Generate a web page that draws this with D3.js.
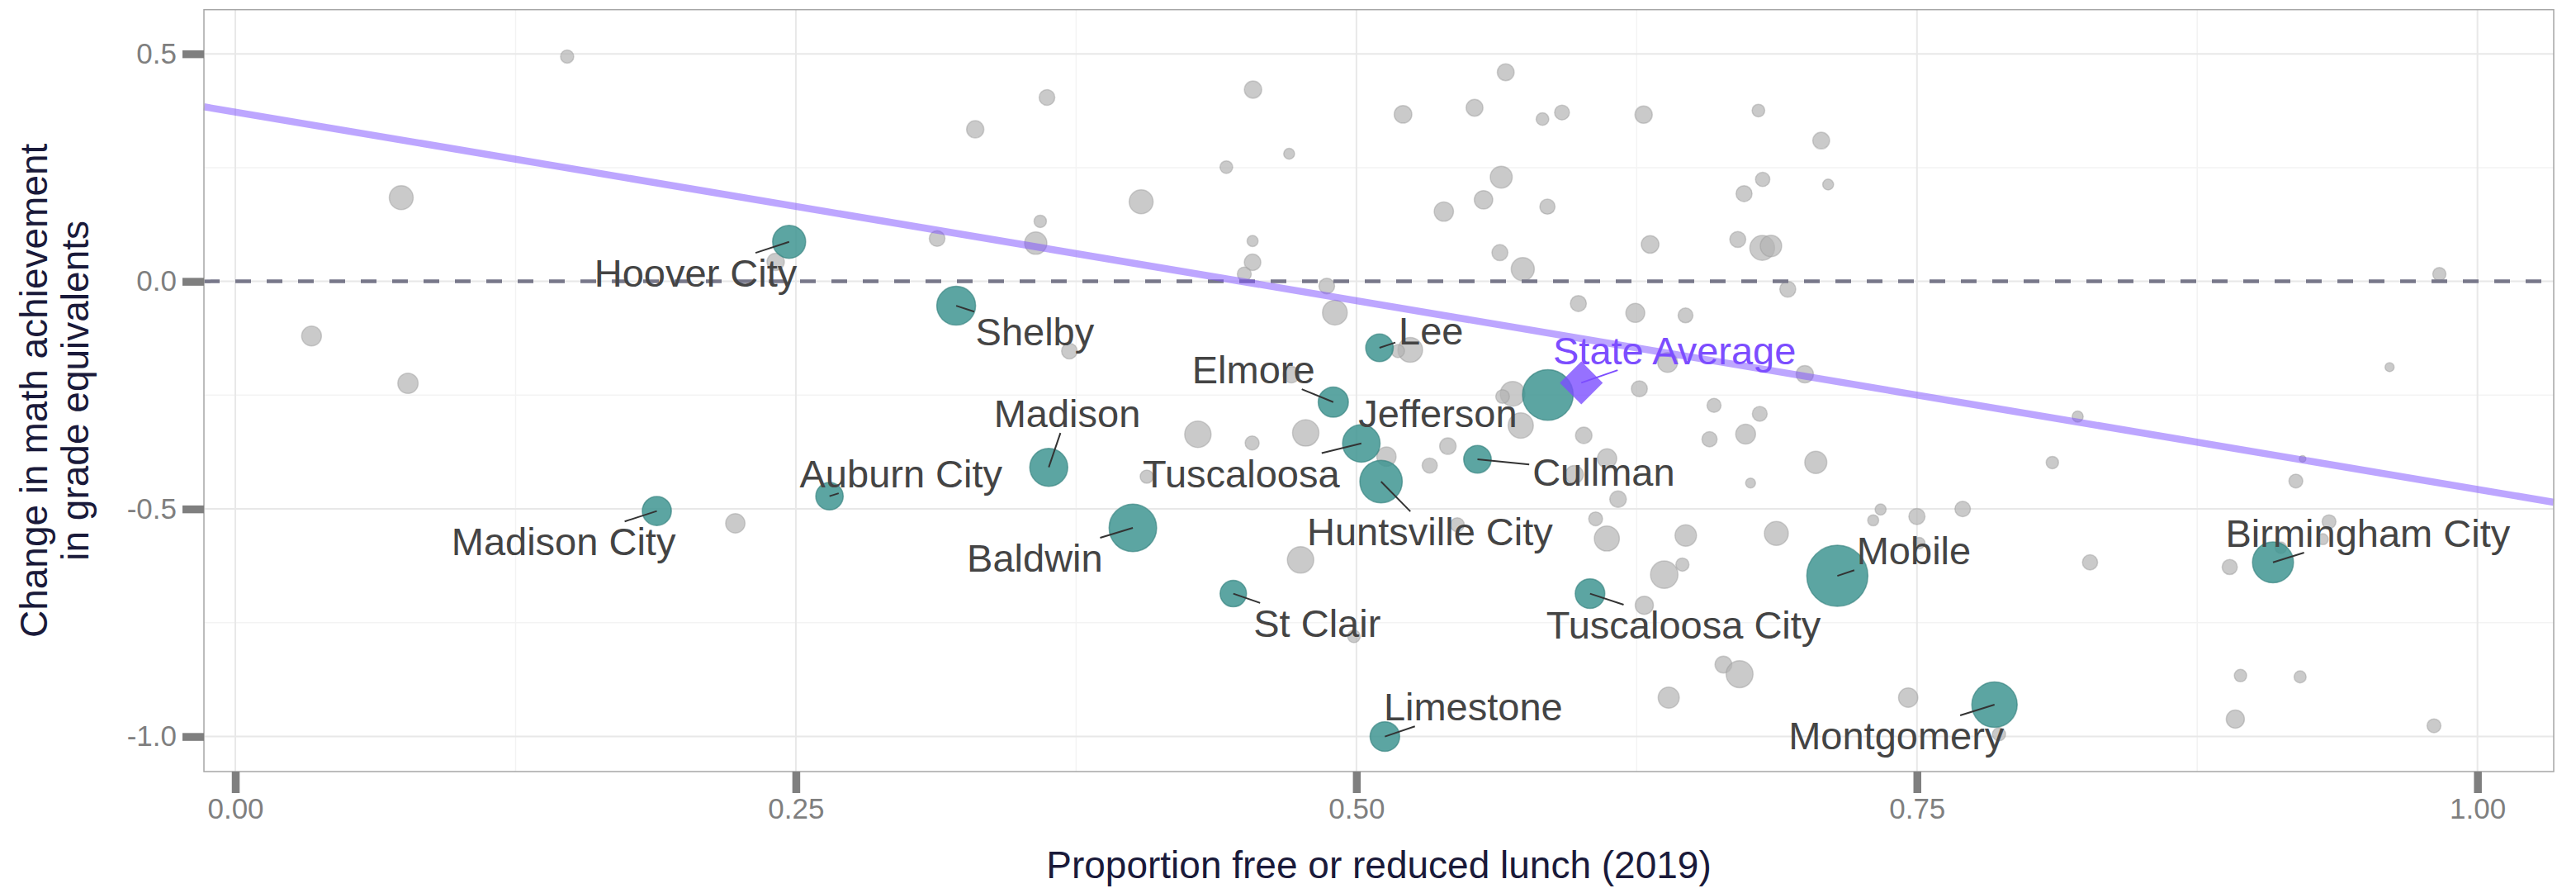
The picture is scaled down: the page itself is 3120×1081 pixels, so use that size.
<!DOCTYPE html>
<html>
<head>
<meta charset="utf-8">
<script src="https://cdn.jsdelivr.net/npm/d3@7"></script>
<style>
  body { margin: 0; background: #fff; }
  text { font-family: "Liberation Sans", Arial, sans-serif; }
</style>
</head>
<body>
<div id="chart"></div>
<script>
// districts without a label: [free/reduced lunch share, change in grade equivalents, enrollment (thousands)]
var otherDistricts = [
  [0.148, 0.494, 2.43], [0.074, 0.184, 7.99], [0.034, -0.120, 5.47], [0.077, -0.224, 5.75],
  [0.241, 0.043, 4.19], [0.330, 0.334, 4.19], [0.362, 0.404, 3.43], [0.442, 0.251, 2.25],
  [0.404, 0.175, 7.99], [0.359, 0.132, 2.14], [0.313, 0.094, 3.43], [0.357, 0.084, 6.92],
  [0.372, -0.153, 3.43], [0.223, -0.5315, 5.2], [0.4293, -0.336, 9.72], [0.4065, -0.429, 2.43],
  [0.4539, 0.4214, 4.19], [0.470, 0.2804, 1.65], [0.5666, 0.4595, 3.95], [0.5208, 0.367, 4.35],
  [0.5527, 0.3815, 3.95], [0.583, 0.3566, 2.25], [0.5917, 0.3711, 3.08], [0.6281, 0.3663, 4.19],
  [0.6793, 0.3753, 2.25], [0.7073, 0.3094, 3.95], [0.4537, 0.0886, 1.70], [0.4537, 0.042, 3.80],
  [0.450, 0.016, 2.74], [0.5646, 0.229, 6.72], [0.5567, 0.1793, 4.76], [0.539, 0.1534, 5.2],
  [0.5852, 0.1642, 3.21], [0.6812, 0.2241, 2.87], [0.7104, 0.2127, 1.65], [0.6729, 0.1927, 3.57],
  [0.631, 0.0813, 4.35], [0.6701, 0.0922, 3.57], [0.681, 0.0735, 8.55], [0.6849, 0.0777, 6.42],
  [0.564, 0.0632, 3.57], [0.5742, 0.0269, 7.44], [0.4868, -0.010, 3.43], [0.4904, -0.0686, 8.55],
  [0.599, -0.0487, 3.57], [0.6244, -0.0693, 5.02], [0.6468, -0.0747, 3.08], [0.6924, -0.0172, 3.57],
  [0.524, -0.1505, 8.55], [0.5185, -0.153, 2.43], [0.6388, -0.178, 5.47], [0.700, -0.204, 4.19],
  [0.6262, -0.236, 3.57], [0.6595, -0.2725, 2.74], [0.6799, -0.291, 3.08], [0.471, -0.2047, 3.80],
  [0.5697, -0.247, 8.55], [0.5652, -0.253, 2.62], [0.4774, -0.333, 9.72], [0.4535, -0.355, 2.74],
  [0.5134, -0.385, 5.2], [0.5327, -0.4047, 3.21], [0.5408, -0.362, 3.80], [0.5733, -0.3167, 8.89],
  [0.6014, -0.3383, 3.80], [0.6118, -0.389, 5.2], [0.6167, -0.4785, 3.80], [0.5972, -0.4245, 4.60],
  [0.6575, -0.3468, 3.21], [0.6736, -0.3356, 5.47], [0.7049, -0.3977, 6.82], [0.6758, -0.4432, 1.37],
  [0.6067, -0.5217, 2.68], [0.6117, -0.565, 8.77], [0.6469, -0.5583, 6.42], [0.6873, -0.5537, 7.99],
  [0.545, -0.5347, 2.74], [0.7338, -0.5013, 1.70], [0.7305, -0.525, 1.70], [0.4751, -0.612, 9.72],
  [0.4989, -0.780, 2.25], [0.6284, -0.7116, 4.60], [0.6373, -0.6444, 10.5], [0.6454, -0.6222, 2.43],
  [0.6637, -0.842, 3.95], [0.6709, -0.863, 10.1], [0.6393, -0.9145, 6.22],
  [0.983, 0.016, 2.43], [0.9608, -0.1884, 1.15], [0.8217, -0.297, 1.70], [0.8104, -0.398, 2.14],
  [0.7704, -0.500, 3.36], [0.750, -0.5165, 3.65], [0.751, -0.575, 1.86], [0.8272, -0.6174, 3.21],
  [0.919, -0.4387, 2.68], [0.922, -0.39, 0.61], [0.9338, -0.528, 2.68], [0.931, -0.5664, 1.70],
  [0.9123, -0.5853, 1.86], [0.8895, -0.6276, 3.21], [0.7461, -0.9145, 5.2], [0.7866, -0.995, 2.43],
  [0.8943, -0.8662, 2.14], [0.9209, -0.869, 2.02], [0.892, -0.9617, 4.60], [0.9806, -0.9764, 2.68]
];

// named districts: name, frl share, change, enrollment (thousands)
var namedDistricts = [
  ["Hoover City", 0.247, 0.087, 15.2],
  ["Shelby", 0.3215, -0.0535, 21.0],
  ["Madison City", 0.188, -0.5045, 11.8],
  ["Auburn City", 0.265, -0.472, 10.5],
  ["Madison", 0.3628, -0.4085, 20.1],
  ["Baldwin", 0.4003, -0.5416, 31.5],
  ["St Clair", 0.4451, -0.686, 9.7],
  ["Elmore", 0.4897, -0.2653, 12.7],
  ["Lee", 0.5103, -0.146, 10.6],
  ["Jefferson", 0.5854, -0.2495, 35.8],
  ["Tuscaloosa", 0.5022, -0.356, 19.6],
  ["Huntsville City", 0.511, -0.44, 25.1],
  ["Cullman", 0.554, -0.391, 10.6],
  ["Tuscaloosa City", 0.6042, -0.686, 12.2],
  ["Limestone", 0.5127, -1.000, 12.2],
  ["Mobile", 0.7145, -0.647, 52.0],
  ["Montgomery", 0.7846, -0.930, 28.7],
  ["Birmingham City", 0.9088, -0.6174, 23.4]
];

// where the repelled labels ended up (label centre, data units)
var labelSpots = {
  "Hoover City": [0.2053, 0.019], "Shelby": [0.3566, -0.110], "Madison City": [0.1464, -0.571],
  "Auburn City": [0.2969, -0.422], "Madison": [0.371, -0.2895], "Baldwin": [0.3566, -0.607],
  "St Clair": [0.4825, -0.750], "Elmore": [0.4541, -0.1933], "Lee": [0.5333, -0.108],
  "Jefferson": [0.5363, -0.2895], "Tuscaloosa": [0.4486, -0.421], "Huntsville City": [0.5328, -0.549],
  "Cullman": [0.6103, -0.4183], "Tuscaloosa City": [0.6459, -0.754], "Limestone": [0.5521, -0.934],
  "Mobile": [0.7486, -0.591], "Montgomery": [0.7408, -0.997], "Birmingham City": [0.9511, -0.5526]
};
var noSegment = ["Jefferson"];

var stateAverage = { frl: 0.6003, change: -0.2229, label: "State Average", spot: [0.6419, -0.1515] };

var fitIntercept = 0.372;
var fitSlope = -0.829;

var xTicks = [0, 0.25, 0.5, 0.75, 1];
var xMinor = [0.125, 0.375, 0.625, 0.875];
var yTicks = [0.5, 0, -0.5, -1];
var yMinor = [0.25, -0.25, -0.75];

var width = 3120, height = 1081;
var pLeft = 247, pRight = 3093, pTop = 11.7, pBottom = 934;

var svg = d3.select("#chart").append("svg")
  .attr("width", width)
  .attr("height", height);

var x = d3.scaleLinear().domain([-0.014, 1.034]).range([pLeft, pRight]);
var y = d3.scaleLinear().domain([-1.077, 0.597]).range([pBottom, pTop]);
var r = d3.scaleSqrt().domain([0, 52]).range([0, 37]);

// grid
var grid = svg.append("g");
grid.selectAll(".vminor").data(xMinor).enter().append("line")
  .attr("x1", d => x(d)).attr("x2", d => x(d)).attr("y1", pTop).attr("y2", pBottom)
  .attr("stroke", "#f3f3f3").attr("stroke-width", 1.5);
grid.selectAll(".hminor").data(yMinor).enter().append("line")
  .attr("x1", pLeft).attr("x2", pRight).attr("y1", d => y(d)).attr("y2", d => y(d))
  .attr("stroke", "#f3f3f3").attr("stroke-width", 1.5);
grid.selectAll(".vmajor").data(xTicks).enter().append("line")
  .attr("x1", d => x(d)).attr("x2", d => x(d)).attr("y1", pTop).attr("y2", pBottom)
  .attr("stroke", "#e8e8e8").attr("stroke-width", 2);
grid.selectAll(".hmajor").data(yTicks).enter().append("line")
  .attr("x1", pLeft).attr("x2", pRight).attr("y1", d => y(d)).attr("y2", d => y(d))
  .attr("stroke", "#e8e8e8").attr("stroke-width", 2);

// grey districts
svg.append("g").selectAll("circle")
  .data(otherDistricts)
  .enter().append("circle")
  .attr("cx", d => x(d[0]))
  .attr("cy", d => y(d[1]))
  .attr("r", d => r(d[2]))
  .attr("fill", "#b4b4b4")
  .attr("fill-opacity", 0.7)
  .attr("stroke", "#9c9c9c")
  .attr("stroke-opacity", 0.45)
  .attr("stroke-width", 1.5);

// zero line
svg.append("line")
  .attr("x1", pLeft).attr("x2", pRight)
  .attr("y1", y(0)).attr("y2", y(0))
  .attr("stroke", "#78788a")
  .attr("stroke-width", 4.5)
  .attr("stroke-dasharray", "19,19");

// fitted line
var x0 = x.domain()[0], x1 = x.domain()[1];
svg.append("line")
  .attr("x1", x(x0)).attr("y1", y(fitIntercept + fitSlope * x0))
  .attr("x2", x(x1)).attr("y2", y(fitIntercept + fitSlope * x1))
  .attr("stroke", "#7c4dff")
  .attr("stroke-opacity", 0.5)
  .attr("stroke-width", 8.5);

// named districts
svg.append("g").selectAll("circle")
  .data(namedDistricts)
  .enter().append("circle")
  .attr("cx", d => x(d[1]))
  .attr("cy", d => y(d[2]))
  .attr("r", d => r(d[3]))
  .attr("fill", "#3f9592")
  .attr("fill-opacity", 0.85)
  .attr("stroke", "#2f7d7a")
  .attr("stroke-opacity", 0.6)
  .attr("stroke-width", 1.5);

// state average diamond
var sx = x(stateAverage.frl), sy = y(stateAverage.change), dd = 26;
svg.append("path")
  .attr("d", `M${sx},${sy - dd} L${sx + dd},${sy} L${sx},${sy + dd} L${sx - dd},${sy} Z`)
  .attr("fill", "#7c4dff")
  .attr("fill-opacity", 0.8);

// labels + segments
var segLayer = svg.append("g");
var labelLayer = svg.append("g");

function addLabel(name, px, py, spot, color, drawSeg) {
  var cx = x(spot[0]), cy = y(spot[1]);
  var t = labelLayer.append("text")
    .attr("x", cx)
    .attr("y", cy + 17)
    .attr("text-anchor", "middle")
    .attr("font-size", 47)
    .attr("fill", color)
    .text(name);
  if (!drawSeg) return;
  var hw = t.node().getComputedTextLength() / 2 + 4;
  var hh = 24;
  var dx = cx - px, dy = cy - py;
  // fraction of the way to the label centre where the line meets the label box
  var sX = Math.abs(dx) > hw ? (Math.abs(dx) - hw) / Math.abs(dx) : 0;
  var sY = Math.abs(dy) > hh ? (Math.abs(dy) - hh) / Math.abs(dy) : 0;
  var s = Math.max(sX, sY);
  if (s <= 0) return;
  segLayer.append("line")
    .attr("x1", px).attr("y1", py)
    .attr("x2", px + dx * s).attr("y2", py + dy * s)
    .attr("stroke", color === "#444444" ? "#333333" : color)
    .attr("stroke-width", 2);
}

namedDistricts.forEach(function (d) {
  addLabel(d[0], x(d[1]), y(d[2]), labelSpots[d[0]], "#444444", noSegment.indexOf(d[0]) < 0);
});
addLabel(stateAverage.label, sx, sy, stateAverage.spot, "#7c4dff", true);

// panel border
svg.append("rect")
  .attr("x", pLeft).attr("y", pTop)
  .attr("width", pRight - pLeft).attr("height", pBottom - pTop)
  .attr("fill", "none")
  .attr("stroke", "#a6a6a6")
  .attr("stroke-width", 1.5);

// axes
var xAxis = svg.append("g")
  .attr("transform", `translate(0,${pBottom})`)
  .call(d3.axisBottom(x).tickValues(xTicks).tickFormat(d => d.toFixed(2)).tickSize(26).tickPadding(6));
var yAxis = svg.append("g")
  .attr("transform", `translate(${pLeft},0)`)
  .call(d3.axisLeft(y).tickValues(yTicks).tickFormat(d => d.toFixed(1)).tickSize(26).tickPadding(7));

[xAxis, yAxis].forEach(function (a) {
  a.select(".domain").remove();
  a.selectAll(".tick line").attr("stroke", "#7f7f7f").attr("stroke-width", 9.5);
  a.selectAll(".tick text")
    .attr("fill", "#7f7f7f")
    .attr("font-size", 35)
    .attr("font-family", "Liberation Sans, Arial, sans-serif");
});

// axis titles
svg.append("text")
  .attr("x", (pLeft + pRight) / 2)
  .attr("y", 1063)
  .attr("text-anchor", "middle")
  .attr("font-size", 46)
  .attr("fill", "#1a1a3a")
  .text("Proportion free or reduced lunch (2019)");

var yTitle = svg.append("text")
  .attr("transform", `translate(57,${(pTop + pBottom) / 2}) rotate(-90)`)
  .attr("text-anchor", "middle")
  .attr("font-size", 46)
  .attr("fill", "#1a1a3a");
yTitle.append("tspan").attr("x", 0).attr("y", 0).text("Change in math achievement");
yTitle.append("tspan").attr("x", 0).attr("y", 50).text("in grade equivalents");
</script>
</body>
</html>
